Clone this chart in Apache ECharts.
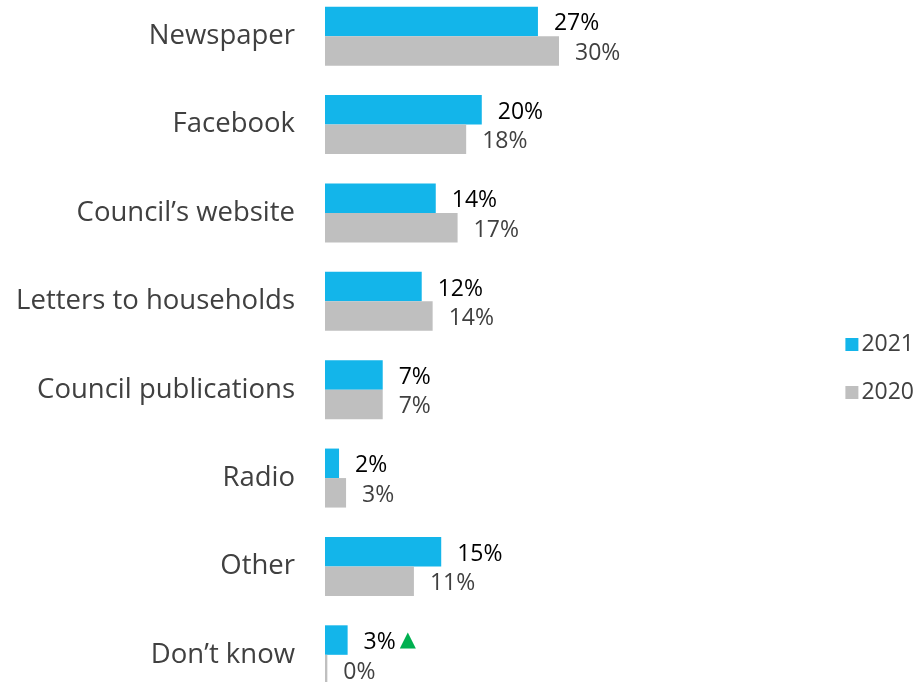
<!DOCTYPE html>
<html><head><meta charset="utf-8">
<script src="https://cdn.jsdelivr.net/npm/echarts@6/dist/echarts.min.js"></script>
<style>html,body{margin:0;padding:0;background:#fff;overflow:hidden}#c{position:absolute;left:0;top:-8px;width:920px;height:720px}</style>
</head><body><div id="c"></div>
<script>
var categories = ['Newspaper','Facebook','Council\u2019s website','Letters to households','Council publications','Radio','Other','Don\u2019t know'];
var seriesNames = ['2021','2020'];
var values2021 = [27.3, 20.1, 14.2, 12.4, 7.4, 1.8, 14.9, 2.9];
var values2020 = [30.0, 18.1, 17.0, 13.8, 7.4, 2.7, 11.4, 0.3];
var sigUp2021 = [false, false, false, false, false, false, false, true];

var FONT = '"Open Sans", "Noto Sans", sans-serif';
var chart = echarts.init(document.getElementById('c'), null, {renderer:'canvas'});

function lbl(color, sig){
  return {
    show:true, position:'right', distance:16, offset:[0,2.5], fontFamily:FONT, fontSize:23, color:color,
    formatter:function(p){
      var t = Math.round(p.value) + '%';
      return (sig && sig[p.dataIndex]) ? '{v|' + t + '}{t|\u25B2}' : '{v|' + t + '}';
    },
    rich:{ v:{fontFamily:FONT, fontSize:23, color:color}, t:{fontFamily:'"DejaVu Sans", sans-serif', fontSize:21, color:'#00B050', padding:[0,0,5,4]} }
  };
}

chart.setOption({
  animation:false,
  backgroundColor:'#fff',
  grid:{left:325, top:0, width:312, height:707, containLabel:false},
  legend:{
    orient:'vertical', right:1, top:336, itemWidth:13, itemHeight:13, itemGap:25, icon:'rect',
    textStyle:{fontFamily:FONT, fontSize:23, color:'#404040', padding:[0,0,0,-2]},
    data:seriesNames
  },
  xAxis:{type:'value', min:0, max:40, show:false},
  yAxis:{
    type:'category', data:categories, inverse:true,
    axisLine:{show:false}, axisTick:{show:false}, splitLine:{show:false},
    axisLabel:{fontFamily:FONT, fontSize:27.5, color:'#404040', margin:30}
  },
  series:[
    {name:seriesNames[0], type:'bar', data:values2021, barWidth:29.5, barGap:'0%',
     itemStyle:{color:'#13B5EA'}, label:lbl('#000000', sigUp2021)},
    {name:seriesNames[1], type:'bar', data:values2020, barWidth:29.5, barGap:'0%',
     itemStyle:{color:'#BFBFBF'}, label:lbl('#404040', null)}
  ]
});
</script></body></html>
